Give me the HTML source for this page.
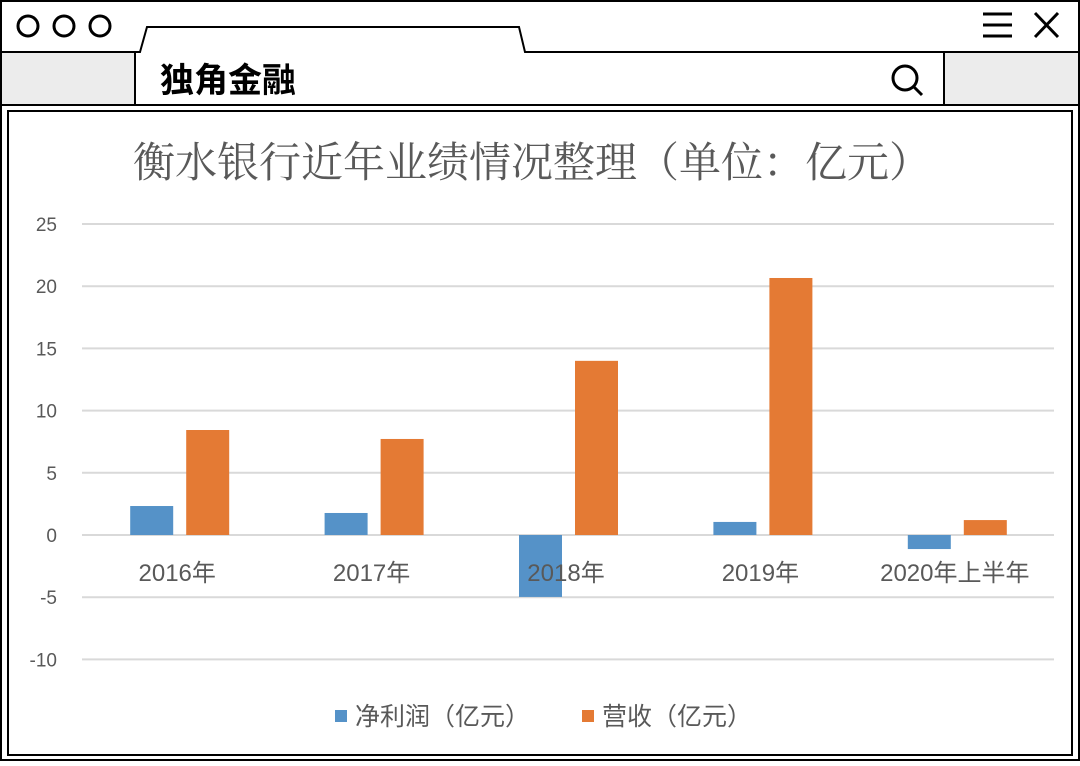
<!DOCTYPE html>
<html><head><meta charset="utf-8"><style>
body{margin:0;width:1080px;height:761px;overflow:hidden;background:#fff;font-family:"Liberation Sans","Noto Sans CJK SC",sans-serif}
</style></head><body>
<svg width="1080" height="761" xmlns="http://www.w3.org/2000/svg">
<rect x="1" y="1" width="1078" height="759" fill="#fff" stroke="#000" stroke-width="2"/>
<rect x="2" y="52" width="133" height="53" fill="#ececec"/>
<rect x="944" y="52" width="134" height="53" fill="#ececec"/>
<path d="M2 52 H140 L147 27 H519 L525 52 H1078" fill="none" stroke="#000" stroke-width="2"/>
<line x1="135" y1="52" x2="135" y2="105" stroke="#000" stroke-width="2"/>
<line x1="944" y1="52" x2="944" y2="105" stroke="#000" stroke-width="2"/>
<line x1="2" y1="105" x2="1078" y2="105" stroke="#000" stroke-width="2"/>
<circle cx="28" cy="26" r="10" fill="none" stroke="#000" stroke-width="3"/>
<circle cx="64" cy="26" r="10" fill="none" stroke="#000" stroke-width="3"/>
<circle cx="100" cy="26" r="10" fill="none" stroke="#000" stroke-width="3"/>
<g stroke="#000" stroke-width="3"><line x1="983" y1="14" x2="1012" y2="14"/><line x1="983" y1="25" x2="1012" y2="25"/><line x1="983" y1="36" x2="1012" y2="36"/></g>
<g stroke="#000" stroke-width="3"><line x1="1035" y1="13" x2="1058" y2="37"/><line x1="1058" y1="13" x2="1035" y2="37"/></g>
<text x="160" y="92" font-size="34" font-weight="bold" fill="#000">独角金融</text>
<g stroke="#000" stroke-width="3" fill="none"><circle cx="905" cy="78" r="12"/><line x1="914" y1="87" x2="922" y2="95"/></g>
<rect x="8" y="111" width="1064" height="644" fill="#fff" stroke="#000" stroke-width="2"/>
<text x="532" y="177" text-anchor="middle" font-size="42" fill="#595959" font-family="'Noto Serif CJK SC',serif">衡水银行近年业绩情况整理（单位：亿元）</text>
<g id="chart"></g>
<g>
<rect x="335" y="710" width="12" height="12" fill="#5592c8"/>
<text x="355" y="725" font-size="25" fill="#595959">净利润（亿元）</text>
<rect x="582" y="710" width="12" height="12" fill="#e47a34"/>
<text x="602" y="725" font-size="25" fill="#595959">营收（亿元）</text>
</g>
</svg>
<script>
const categories=["2016年","2017年","2018年","2019年","2020年上半年"];
const profit=[2.33,1.77,-4.98,1.05,-1.13];
const revenue=[8.44,7.72,14.0,20.66,1.2];
const yTicks=[-10,-5,0,5,10,15,20,25];
const NS="http://www.w3.org/2000/svg";
const g=document.getElementById("chart");
const x0=82,x1=1054,y0v=535,ppu=12.44;
const y=v=>y0v-v*ppu;
const band=(x1-x0)/categories.length;
const cx=i=>x0+band*(i+0.5);
function mk(t,a){const e=document.createElementNS(NS,t);for(const k in a)e.setAttribute(k,a[k]);g.appendChild(e);return e;}
yTicks.forEach(t=>{
 const l=mk("line",{x1:x0,x2:x1,y1:y(t),y2:y(t),stroke:"#d9d9d9","stroke-width":2});
 
 
 const tx=mk("text",{x:57,y:y(t)+7,"text-anchor":"end","font-size":19,fill:"#595959"});
 tx.textContent=t;
 
 
});
const bw=43;
categories.forEach((c,i)=>{
 const p=profit[i],r=revenue[i];
 const b1=mk("rect",{x:cx(i)-49,y:Math.min(y(p),y(0)),width:bw,height:Math.abs(y(p)-y(0)),fill:"#5592c8"});
 
 
 const b2=mk("rect",{x:cx(i)+7,y:Math.min(y(r),y(0)),width:bw,height:Math.abs(y(r)-y(0)),fill:"#e47a34"});
 
 
 const tx=mk("text",{x:cx(i)-2,y:581,"text-anchor":"middle","font-size":24,fill:"#595959"});
 tx.textContent=c;
 
 
});
</script>
</body></html>
